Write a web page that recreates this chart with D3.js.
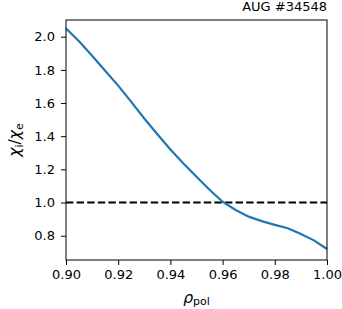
<!DOCTYPE html>
<html>
<head>
<meta charset="utf-8">
<script src="https://cdn.jsdelivr.net/npm/d3@7"></script>
<style>
  body { margin: 0; background: #fff; }
  svg { display: block; font-family: "DejaVu Sans", sans-serif; }
</style>
</head>
<body>
<svg id="chart"></svg>
<script>
// rho_pol positions and chi_i/chi_e values
const rho = [0.900, 0.905, 0.910, 0.915, 0.920, 0.925, 0.930, 0.935, 0.940, 0.945, 0.950,
             0.955, 0.960, 0.965, 0.970, 0.975, 0.980, 0.985, 0.990, 0.995, 1.000];
const ratio = [2.050, 1.972, 1.885, 1.795, 1.705, 1.607, 1.507, 1.412, 1.320, 1.235, 1.155,
               1.077, 1.005, 0.955, 0.915, 0.888, 0.865, 0.845, 0.810, 0.772, 0.720];
const refLevel = [1.0];
const xTicks = [0.90, 0.92, 0.94, 0.96, 0.98, 1.00];
const yTicks = [0.8, 1.0, 1.2, 1.4, 1.6, 1.8, 2.0];
const title = 'AUG #34548';

const width = 342, height = 309;
const margin = { top: 20, right: 15, bottom: 49, left: 66 };
const w = width - margin.left - margin.right;
const h = height - margin.top - margin.bottom;

const svg = d3.select('#chart')
    .attr('width', width)
    .attr('height', height);

const chart = svg.append('g')
    .attr('transform', `translate(${margin.left}, ${margin.top})`);

const xScale = d3.scaleLinear().domain([0.90, 1.00]).range([0, w]);
const yScale = d3.scaleLinear().domain([0.6535, 2.1007]).range([h, 0]);

// axes
const xAxis = chart.append('g')
    .attr('transform', `translate(0, ${h})`)
    .call(d3.axisBottom(xScale).tickValues(xTicks).tickFormat(d3.format('.2f')).tickSize(5).tickPadding(5));
const yAxis = chart.append('g')
    .call(d3.axisLeft(yScale).tickValues(yTicks).tickFormat(d3.format('.1f')).tickSize(5).tickPadding(6));

[xAxis, yAxis].forEach(a => {
    a.select('.domain').remove();
    a.selectAll('.tick line').attr('stroke', '#000').attr('stroke-width', 1);
    a.selectAll('.tick text')
        .attr('fill', '#000')
        .attr('font-size', '13px')
        .attr('font-family', '"DejaVu Sans", sans-serif');
});

// reference line at 1
chart.selectAll('line.ref')
    .data(refLevel)
    .join('line')
    .attr('class', 'ref')
    .attr('x1', 0)
    .attr('x2', w)
    .attr('y1', d => yScale(d))
    .attr('y2', d => yScale(d))
    .attr('stroke', '#000')
    .attr('stroke-width', 2)
    .attr('stroke-dasharray', '7.4 3.2');

const line = d3.line()
    .x((d, i) => xScale(rho[i]))
    .y(d => yScale(d));

chart.append('path')
    .datum(ratio)
    .attr('d', line)
    .attr('fill', 'none')
    .attr('stroke', '#1f77b4')
    .attr('stroke-width', 2.2);

// frame
chart.append('rect')
    .attr('width', w)
    .attr('height', h)
    .attr('fill', 'none')
    .attr('stroke', '#000')
    .attr('stroke-width', 1);

// title
svg.append('text')
    .attr('x', margin.left + w)
    .attr('y', 11)
    .attr('text-anchor', 'end')
    .attr('font-size', '13px')
    .text(title);

// x label: rho_pol
const xl = svg.append('text')
    .attr('x', margin.left + w / 2)
    .attr('y', 302.5)
    .attr('text-anchor', 'middle')
    .attr('font-size', '15.6px');
xl.append('tspan').attr('font-style', 'italic').text('ρ');
xl.append('tspan').attr('font-size', '11px').attr('dy', 2.5).text('pol');

// y label: chi_i / chi_e
const yl = svg.append('text')
    .attr('transform', `translate(20, ${margin.top + h / 2}) rotate(-90)`)
    .attr('text-anchor', 'middle')
    .attr('font-size', '15.6px');
yl.append('tspan').attr('font-style', 'italic').text('χ');
yl.append('tspan').attr('font-size', '11px').attr('dy', 2.5).text('i');
yl.append('tspan').attr('dy', -2.5).text('/');
yl.append('tspan').attr('font-style', 'italic').text('χ');
yl.append('tspan').attr('font-size', '11px').attr('dy', 2.5).text('e');
</script>
</body>
</html>
